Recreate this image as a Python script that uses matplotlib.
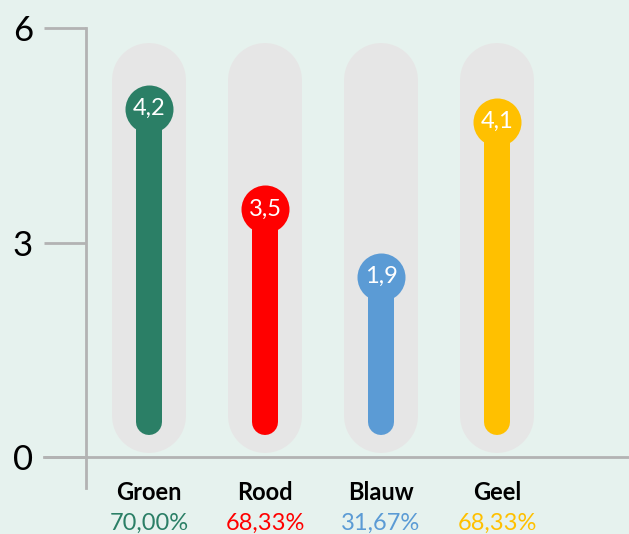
import matplotlib.pyplot as plt
from matplotlib.lines import Line2D

categories = ["Groen", "Rood", "Blauw", "Geel"]
values = [4.2, 3.5, 1.9, 4.1]
# heights at which the value bubbles are drawn in the picture
bubble_heights = [4.87, 3.47, 2.52, 4.69]
percentages = ["70,00%", "68,33%", "31,67%", "68,33%"]
colors = ["#2b7f66", "#ff0000", "#5b9bd5", "#ffc000"]
track_range = (0.06, 5.79)
bar_bottom = 0.31

BG = "#e6f2ee"
AXIS = "#b3b3b3"
TRACK = "#e6e6e6"

plt.rcParams['font.family'] = ['Lato', 'DejaVu Sans']

fig = plt.figure(figsize=(6.29, 5.34), dpi=100, facecolor=BG)
ax = fig.add_axes([86 / 629, 77 / 534, 543 / 629, 429 / 534])
ax.set_facecolor(BG)
ax.set_ylim(0, 6)
ax.set_xlim(-0.543, 4.138)

px_per_unit = 429 / 6  # pixels per data unit on y
pt = 0.72  # points per pixel at 100 dpi

for i, cat in enumerate(categories):
    # grey rounded track
    r = 37 / px_per_unit
    ax.plot([i, i], [track_range[0] + r, track_range[1] - r], color=TRACK,
            lw=74 * pt, solid_capstyle='round', zorder=1)
    # coloured stem
    r2 = 13 / px_per_unit
    ax.plot([i, i], [bar_bottom + r2, bubble_heights[i]], color=colors[i],
            lw=26 * pt, solid_capstyle='round', zorder=2)
    ax.plot([i], [bubble_heights[i]], 'o', color=colors[i], ms=48 * pt,
            mec='none', zorder=3)
    ax.text(i, bubble_heights[i], f"{values[i]:.1f}".replace('.', ','),
            ha='center', va='center', color='white', fontsize=17, zorder=4)
    ax.text(i, -0.5, cat, ha='center', va='center', fontsize=17,
            fontweight='bold', color='black')
    ax.text(i, -0.93, percentages[i], ha='center', va='center', fontsize=17,
            color=colors[i])

for s in ax.spines.values():
    s.set_visible(False)
ax.set_xticks([])
ax.set_yticks([0, 3, 6])
ax.set_yticklabels(["0", "3", "6"], fontsize=25)
ax.tick_params(axis='y', length=42 * pt, width=2, color=AXIS, pad=8)

# y axis line (runs a bit below zero) and x axis line (runs left of the y axis)
ax.add_line(Line2D([0, 0], [-31 / 429, 1], transform=ax.transAxes,
                   color=AXIS, lw=2, clip_on=False))
ax.add_line(Line2D([-42 / 543, 1], [0, 0], transform=ax.transAxes,
                   color=AXIS, lw=2, clip_on=False))

fig.savefig("out.png", dpi=100, facecolor=BG)
